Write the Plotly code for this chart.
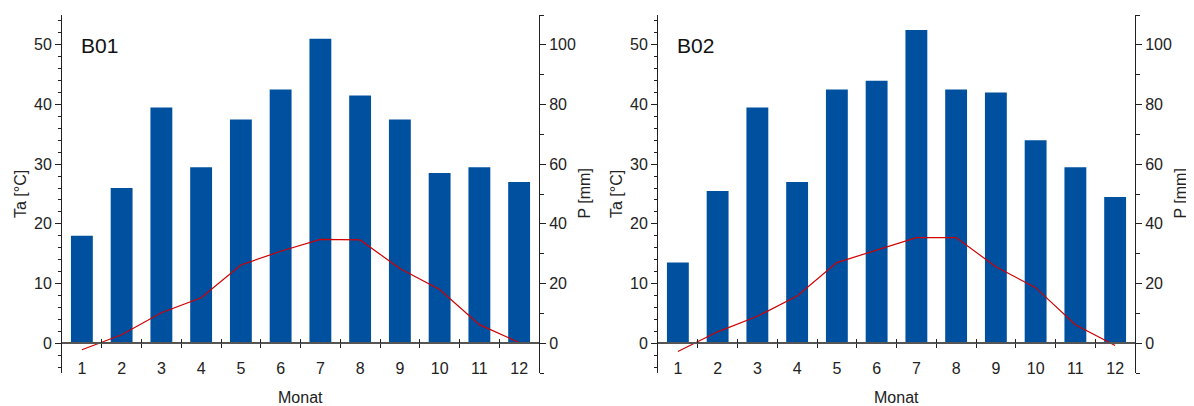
import plotly.graph_objects as go

months = list(range(1, 13))
month_labels = [str(m) for m in months]
p_b01 = [36, 52, 79, 59, 75, 85, 102, 83, 75, 57, 59, 54]
ta_b01 = [-1.1, 1.4, 5.1, 7.6, 13.1, 15.4, 17.4, 17.3, 12.5, 9.0, 3.1, 0.1]
p_b02 = [27, 51, 79, 54, 85, 88, 105, 85, 84, 68, 59, 49]
ta_b02 = [-1.4, 1.9, 4.5, 7.9, 13.5, 15.6, 17.7, 17.7, 12.8, 9.3, 3.1, -0.4]
boundaries = [m + 0.5 for m in months[:-1]]
panels = ["B01", "B02"]

# page body has an 8px margin, so the figure is laid out 8px smaller/shifted
OFF = 8
W, H = 1194 - OFF, 406 - OFF
FONT = "Liberation Sans, Arial, sans-serif"
TXT = "#222222"
BAR = "#0050A0"
LINE = "#D00000"
FS = 16


def px_x(p):
    return (p - OFF) / W


def px_y(p):
    return (H - (p - OFF)) / H


ydom = [px_y(373), px_y(15)]
p_range = [-10, 110]
ta_range = [-5, 55]
zero_pos = ydom[0] + (0 - p_range[0]) / (p_range[1] - p_range[0]) * (ydom[1] - ydom[0])
left_px = [62, 658]
right_px = [539, 1135]
xdoms = [[px_x(left_px[i]), px_x(right_px[i])] for i in range(2)]

fig = go.Figure()
layout = dict(
    width=W, height=H,
    margin=dict(l=0, r=0, t=0, b=0),
    paper_bgcolor="white", plot_bgcolor="white",
    showlegend=False,
    font=dict(family=FONT, size=FS, color=TXT),
)

datasets = [(p_b01, ta_b01), (p_b02, ta_b02)]
annotations = []
for i, (pv, tv) in enumerate(datasets):
    xm = "x" if i == 0 else "x2"
    xm_key = "xaxis" if i == 0 else "xaxis2"
    xo1 = 3 + 2 * i
    xo2 = 4 + 2 * i
    yp = 1 + 2 * i
    yt = 2 + 2 * i
    yp_ref = "y" if yp == 1 else f"y{yp}"
    yt_ref = f"y{yt}"
    yp_key = "yaxis" if yp == 1 else f"yaxis{yp}"
    yt_key = f"yaxis{yt}"

    fig.add_trace(go.Bar(x=months, y=pv, xaxis=xm, yaxis=yp_ref, width=0.55,
                         marker=dict(color=BAR, line=dict(width=0)), hoverinfo="skip"))
    fig.add_trace(go.Scatter(x=months, y=tv, xaxis=xm, yaxis=yt_ref, mode="lines",
                             line=dict(color=LINE, width=1.2), hoverinfo="skip"))
    # invisible carriers for the tick-mark axes
    fig.add_trace(go.Scatter(x=months, y=pv, xaxis=f"x{xo1}", yaxis=yp_ref, mode="none",
                             hoverinfo="skip"))
    fig.add_trace(go.Scatter(x=months, y=pv, xaxis=f"x{xo2}", yaxis=yp_ref, mode="none",
                             hoverinfo="skip"))

    layout[xm_key] = dict(
        domain=xdoms[i], range=[0.5, 12.5], anchor="free", position=zero_pos,
        showline=True, linecolor="#555555", linewidth=1.5,
        tickmode="array", tickvals=months, ticktext=month_labels,
        ticks="", ticklabelstandoff=11, showgrid=False, zeroline=False,
        tickfont=dict(size=FS, color=TXT),
        automargin=False, fixedrange=True,
    )
    for k, side in ((xo1, "bottom"), (xo2, "top")):
        layout[f"xaxis{k}"] = dict(
            overlaying=xm, range=[0.5, 12.5], anchor="free", position=zero_pos,
            side=side, showline=False, tickmode="array", tickvals=boundaries,
            ticks="outside", ticklen=4, tickwidth=1, tickcolor="#222222",
            showticklabels=False, showgrid=False, zeroline=False, automargin=False,
        )
    layout[yp_key] = dict(
        domain=ydom, range=p_range, anchor=xm, side="right",
        showline=True, linecolor="#222222", linewidth=1,
        tickmode="linear", tick0=0, dtick=20, ticks="outside", ticklen=6,
        tickcolor="#222222",
        minor=dict(tickmode="linear", tick0=-10, dtick=10, ticks="outside", ticklen=4,
                   tickcolor="#222222", showgrid=False),
        showgrid=False, zeroline=False, tickfont=dict(size=FS, color=TXT),
        automargin=False, fixedrange=True,
    )
    layout[yt_key] = dict(
        overlaying=yp_ref, range=ta_range, anchor=xm, side="left",
        showline=True, linecolor="#222222", linewidth=1,
        tickmode="linear", tick0=0, dtick=10, ticks="outside", ticklen=6,
        tickcolor="#222222",
        minor=dict(tickmode="linear", tick0=0, dtick=2, ticks="outside", ticklen=3,
                   tickcolor="#222222", showgrid=False),
        showgrid=False, zeroline=False, tickfont=dict(size=FS, color=TXT),
        automargin=False, fixedrange=True,
    )
    # panel label
    annotations.append(dict(
        text=panels[i], xref="paper", yref="paper",
        x=px_x(left_px[i] + 17), y=px_y(46), xanchor="left", yanchor="middle",
        showarrow=False, font=dict(size=21, color="#111111", family=FONT),
    ))
    # axis titles
    annotations.append(dict(
        text="Ta [°C]", xref="paper", yref="paper", textangle=-90,
        x=px_x(left_px[i] - 42), y=px_y(194), xanchor="center", yanchor="middle",
        showarrow=False, font=dict(size=FS, color=TXT, family=FONT),
    ))
    annotations.append(dict(
        text="P [mm]", xref="paper", yref="paper", textangle=-90,
        x=px_x(right_px[i] + 44.5), y=px_y(194), xanchor="center", yanchor="middle",
        showarrow=False, font=dict(size=FS, color=TXT, family=FONT),
    ))
    annotations.append(dict(
        text="Monat", xref="paper", yref="paper",
        x=px_x((left_px[i] + right_px[i]) / 2), y=px_y(397), xanchor="center",
        yanchor="middle", showarrow=False, font=dict(size=FS, color=TXT, family=FONT),
    ))

layout["annotations"] = annotations
fig.update_layout(**layout)
fig.write_html("out.html")
